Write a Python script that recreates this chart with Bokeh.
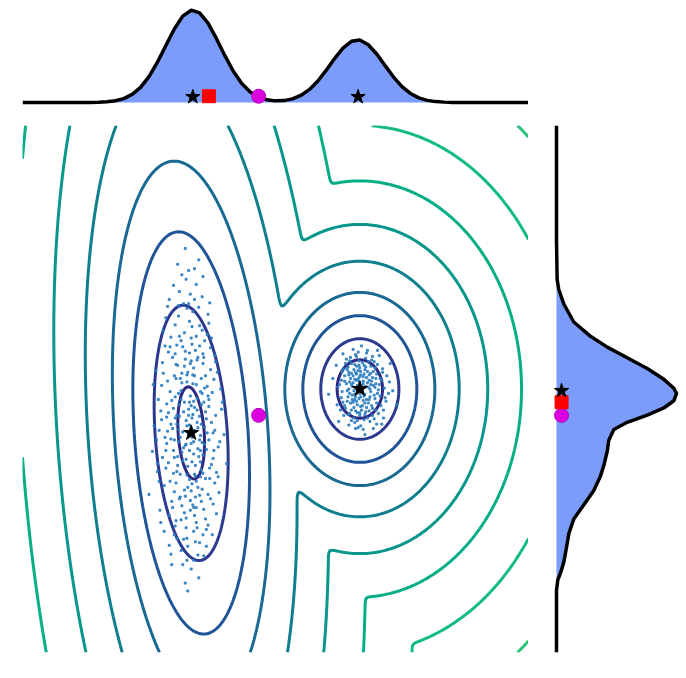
import numpy as np
from bokeh.plotting import figure
from bokeh.layouts import column, row
from bokeh.embed import file_html
from bokeh.resources import INLINE

# ---- mixture model ----
weights = [0.55, 0.4]
means = [[-1.0, -0.5], [1.0, 0.0]]
covs = [[[0.0374, -0.0266], [-0.0266, 0.41]],
        [[0.0317, 0.0], [0.0, 0.0484]]]
levels = [0.66, 2.9, 6.72, 12.0, 21.4, 35.8, 57.5, 92.5, 147.6]
level_colors = ["#2d2882", "#2b3a8f", "#1f5596", "#186a93", "#0f7f8e",
                "#07968a", "#05ae86", "#12bb82", "#2cc47c"]

# special points
mix_mean = [-0.2, -0.3]
top_square_x = [-0.79]
right_square_y = [-0.15]
top_star_x = [-0.98, 0.98]
right_star_y = [-0.02]

# marginal curves
top_x = [-3.0, -2.2, -2.1, -2.0, -1.9, -1.8, -1.7, -1.6, -1.5, -1.4, -1.3, -1.2,
         -1.1, -1.0, -0.9, -0.8, -0.7, -0.6, -0.5, -0.4, -0.3, -0.2, -0.1, 0.0,
         0.1, 0.2, 0.3, 0.4, 0.5, 0.6, 0.7, 0.8, 0.9, 1.0, 1.1, 1.2, 1.3, 1.4,
         1.5, 1.6, 1.7, 1.8, 1.9, 2.0, 2.1, 2.2, 3.0]
top_density = [0, 0.001, 0.002, 0.0055, 0.0137, 0.031, 0.064, 0.120, 0.206,
               0.320, 0.453, 0.584, 0.686, 0.733, 0.712, 0.630, 0.507, 0.372,
               0.248, 0.151, 0.083, 0.042, 0.021, 0.013, 0.015, 0.029, 0.056,
               0.102, 0.169, 0.255, 0.349, 0.432, 0.486, 0.496, 0.459, 0.385,
               0.293, 0.202, 0.126, 0.072, 0.037, 0.017, 0.007, 0.003, 0.001,
               0, 0]
right_y = [3.0, 1.69, 1.25, 1.133, 0.968, 0.763, 0.600, 0.477, 0.355, 0.233,
           0.110, 0.008, -0.051, -0.134, -0.216, -0.298, -0.379, -0.461,
           -0.583, -0.706, -0.869, -0.992, -1.155, -1.318, -1.481, -1.645,
           -1.808, -1.971, -2.094, -2.175, -2.295, -3.0]
right_density = [0, 0, 0.005, 0.018, 0.058, 0.137, 0.270, 0.403, 0.561, 0.720,
                 0.852, 0.931, 0.953, 0.931, 0.852, 0.720, 0.561, 0.455, 0.415,
                 0.403, 0.376, 0.349, 0.296, 0.217, 0.137, 0.098, 0.079, 0.058,
                 0.032, 0.010, 0, 0]

# samples
left_pts = [
    (-1.02, -0.41), (-0.91, -0.77), (-1.13, 0.12), (-0.97, -1.35), (-1.21, -0.22), (-0.85, 0.36), (-1.06, -0.63), (-0.78, -1.02), (-1.31, -0.55), (-0.99, 0.71),
    (-1.09, -1.71), (-0.88, -0.18), (-1.17, -0.94), (-0.94, 0.05), (-1.25, 0.48), (-0.72, -0.47), (-1.04, -1.12), (-0.83, -1.48), (-1.14, -0.31), (-0.96, 1.02),
    (-1.38, -1.05), (-0.69, 0.19), (-1.01, -0.08), (-1.19, -1.56), (-0.87, -0.61), (-1.07, 0.43), (-0.92, -1.89), (-1.28, 0.09), (-0.81, 0.62), (-1.11, -0.72),
    (-0.98, -0.29), (-1.23, -1.28), (-0.76, -0.86), (-1.05, 0.92), (-1.35, -0.35), (-0.90, -1.21), (-1.16, 0.27), (-0.64, -0.23), (-1.00, -2.05), (-0.86, 1.28),
    (-1.20, -0.58), (-0.95, -0.99), (-1.42, 0.21), (-0.79, -0.12), (-1.08, -1.41), (-0.93, 0.33), (-1.27, -0.84), (-0.74, -1.31), (-1.03, 1.35), (-1.15, -0.05),
    (-0.89, -0.53), (-1.33, 0.66), (-0.97, -1.62), (-1.12, 0.55), (-0.68, -0.66), (-1.24, -1.88), (-0.84, 0.01), (-1.06, -0.36), (-0.99, -0.83), (-1.46, -0.71),
    (-0.80, 0.85), (-1.18, -1.07), (-0.92, -0.44), (-1.01, 0.29), (-1.29, -0.17), (-0.75, -1.66), (-1.10, -0.49), (-0.90, 0.49), (-1.37, -1.38), (-0.96, -0.21),
    (-1.14, 1.11), (-0.70, -0.95), (-1.05, -1.95), (-0.87, -1.14), (-1.22, 0.36), (-0.98, 0.16), (-1.09, -0.67), (-0.82, -0.34), (-1.30, 0.81), (-0.94, -1.52),
    (-1.17, -0.40), (-0.77, 0.47), (-1.04, -0.88), (-1.40, -0.94), (-0.91, 1.47), (-1.13, -1.23), (-0.86, -0.75), (-1.25, -0.03), (-0.61, -0.52), (-1.00, 0.58),
    (-1.08, -0.15), (-0.95, -1.74), (-1.19, 0.73), (-0.83, -0.26), (-1.02, -1.03), (-1.32, -1.62), (-0.73, 0.11), (-1.11, 0.18), (-0.88, -0.92), (-1.21, -0.70),
    (-0.97, 0.24), (-1.07, -2.21), (-0.85, -1.37), (-1.26, 1.02), (-0.79, -0.58), (-1.15, -0.60), (-0.93, -0.11), (-1.44, -0.42), (-1.02, 0.41), (-0.67, -1.18),
    (-1.12, -1.49), (-0.90, 0.72), (-1.35, 0.04), (-0.99, -0.55), (-1.20, -1.17), (-0.82, -1.79), (-1.05, 0.08), (-0.76, -0.38), (-1.28, -0.48), (-0.94, 1.19),
    (-1.10, -0.82), (-0.86, 0.29), (-1.23, -2.00), (-1.01, -1.27), (-0.71, 0.31), (-1.16, 1.42), (-0.96, -0.97), (-1.50, -1.20), (-0.89, -0.03), (-1.06, -1.58),
    (-1.18, 0.12), (-0.80, -1.55), (-1.03, -0.23), (-1.31, 0.49), (-0.92, -0.68), (-1.09, 0.97), (-0.74, -0.79), (-1.26, -1.44), (-0.97, -0.14), (-1.13, -0.97),
    (-0.88, -1.28), (-1.39, -0.12), (-0.98, 0.88), (-1.14, -0.18), (-0.65, 0.00), (-1.04, -1.79), (-0.84, 0.55), (-1.21, -0.96), (-0.93, -0.38), (-1.07, 1.60),
    (-0.81, -0.50), (-1.24, 0.59), (-1.00, -1.16), (-0.91, -2.15), (-1.17, -0.30), (-0.78, 0.98), (-1.34, -0.78), (-1.05, -0.42), (-0.87, -0.05), (-1.11, -1.33),
    (-0.95, 0.44), (-1.20, -1.66), (-0.72, -1.07), (-1.08, 0.26), (-1.29, -0.62), (-0.96, -1.44), (-0.83, 0.15), (-1.15, 0.83), (-1.02, -0.70), (-0.58, -0.85),
    (-1.27, -0.27), (-0.89, -0.83), (-1.06, 1.25), (-0.99, -0.33), (-1.36, -1.52), (-0.79, -0.20), (-1.12, -0.12), (-0.94, -1.05), (-1.19, 0.40), (-0.86, -1.66),
    (-1.03, -0.52), (-0.90, -0.31), (-1.16, -0.77), (-0.98, 0.06), (-1.24, -0.40), (-0.82, -0.69), (-1.07, 0.34), (-0.95, -1.23), (-1.12, -1.84), (-0.77, 0.22),
    (-1.30, -0.90), (-1.00, -0.62), (-0.87, 0.67), (-1.19, -0.09), (-0.93, -1.58), (-1.05, -0.98), (-0.71, -0.30), (-1.34, 0.30), (-1.01, 1.08), (-0.89, -1.00),
    (-1.14, 0.60), (-0.80, -1.20), (-1.22, -1.35), (-0.96, -0.47), (-1.09, -0.26), (-0.66, -0.60), (-1.41, -0.58), (-1.04, 0.19), (-0.85, -1.90), (-1.17, -1.70),
    (-0.99, 0.51), (-1.28, 0.94), (-0.75, -0.04), (-1.06, -1.47), (-0.92, 0.36), (-1.13, -0.55), (-0.84, -0.43), (-1.25, -1.05), (-1.00, -0.19), (-0.70, -1.42),
    (-1.11, 1.30), (-0.97, -0.74), (-1.36, -0.25), (-0.88, 0.12), (-1.04, -2.30), (-1.20, 0.15), (-0.79, 0.75), (-1.08, -1.15), (-0.94, -1.35), (-1.27, 0.42),
    (-0.83, -1.02), (-1.15, -0.46), (-1.02, 0.77), (-0.90, -0.58), (-1.32, -1.10), (-0.73, -0.70), (-1.07, -0.64), (-0.96, 1.37), (-1.18, -1.50), (-0.86, 0.40),
    (-1.01, -1.38), (-1.23, -0.13), (-0.78, -0.90), (-1.10, 0.48), (-0.93, -0.24), (-1.45, 0.05), (-0.97, -1.95), (-0.81, 0.03), (-1.16, -0.87), (-1.03, -0.30),
    (-0.91, 0.93), (-1.30, -0.70), (-0.68, -1.00), (-1.12, -0.02), (-0.99, -1.08), (-1.21, 1.18), (-0.85, -0.15), (-1.05, -1.70), (-0.76, 0.58), (-1.38, -0.47),
    (-1.08, 0.64), (-0.95, -0.87), (-1.19, -0.33), (-0.82, -1.60), (-1.00, 0.32), (-1.26, -1.78), (-0.88, -0.40), (-1.14, -1.25), (-0.74, -0.50), (-1.03, 0.97),
    (-0.92, -1.12), (-1.33, 0.18), (-1.06, -0.80), (-0.80, -0.08), (-1.18, 0.28), (-0.97, -0.60), (-1.24, -0.57), (-0.87, 1.05), (-1.10, -2.00), (-0.63, -0.15),
    (-1.00, -0.45), (-1.15, 0.95), (-0.90, -1.75), (-1.29, -0.32), (-0.84, -0.63), (-1.07, -1.22), (-0.96, 0.15), (-1.20, -0.78), (-0.77, -1.25), (-1.11, 0.07),
    (-0.94, 0.60), (-1.40, -0.85), (-1.02, -0.15), (-0.86, -0.96), (-1.17, 0.50), (-0.98, -1.32), (-1.22, -0.45), (-0.72, 0.38), (-1.05, 0.16), (-0.89, -0.70),
]
right_pts = [
    (1.02, 0.04), (0.91, -0.12), (1.13, 0.18), (0.97, -0.27), (1.21, -0.05), (0.85, 0.22), (1.06, -0.16), (0.79, -0.03), (1.17, 0.31), (0.99, 0.09),
    (1.09, -0.33), (0.88, 0.08), (1.24, 0.12), (0.94, -0.06), (1.05, 0.27), (0.73, -0.18), (1.15, -0.22), (0.96, 0.37), (1.31, -0.14), (0.87, -0.41),
    (1.01, -0.09), (1.19, 0.06), (0.82, 0.15), (1.08, 0.41), (0.93, -0.21), (1.27, 0.23), (0.90, 0.29), (1.12, -0.37), (0.76, 0.05), (1.04, 0.14),
    (0.98, -0.44), (1.22, -0.28), (0.86, -0.09), (1.10, 0.02), (0.68, 0.12), (1.35, 0.08), (0.95, 0.19), (1.14, 0.33), (0.81, -0.30), (1.03, -0.02),
    (1.18, -0.11), (0.92, 0.45), (1.07, -0.26), (0.84, 0.34), (1.28, -0.33), (1.00, 0.24), (0.89, -0.16), (1.11, 0.10), (0.97, -0.36), (1.23, 0.38),
    (0.78, -0.10), (1.05, -0.08), (0.94, 0.11), (1.16, -0.45), (0.87, 0.00), (1.39, -0.02), (1.02, 0.49), (0.72, 0.27), (1.20, 0.17), (0.96, -0.14),
    (1.09, 0.20), (0.83, -0.22), (1.25, -0.19), (1.00, -0.30), (0.91, 0.03), (1.13, 0.26), (0.99, 0.32), (1.32, 0.15), (0.80, 0.40), (1.06, -0.52),
    (0.93, -0.02), (1.17, -0.07), (0.86, 0.25), (1.04, 0.06), (1.21, 0.44), (0.75, -0.37), (1.10, -0.16), (0.95, -0.25), (1.29, 0.01), (1.01, 0.16),
    (0.88, -0.28), (1.14, 0.09), (0.97, 0.04), (1.26, -0.40), (0.82, 0.09), (1.07, 0.35), (0.63, -0.06), (1.19, -0.24), (0.90, 0.18), (1.03, -0.19),
    (1.12, 0.00), (0.94, -0.38), (1.36, 0.29), (0.85, -0.14), (1.08, 0.13), (1.00, -0.05), (0.79, 0.20), (1.23, 0.05), (0.96, 0.26), (1.15, -0.30),
    (1.06, 0.22), (0.89, 0.36), (1.30, -0.10), (0.98, 0.12), (1.18, 0.24), (0.77, -0.24), (1.01, -0.42), (1.11, -0.12), (0.92, 0.07), (1.44, -0.18),
    (1.00, 0.07), (0.95, -0.09), (1.07, 0.03), (0.92, 0.15), (1.04, -0.13), (1.13, -0.03), (0.88, -0.05), (1.01, 0.20), (0.97, -0.18), (1.11, 0.16),
    (1.06, -0.06), (0.90, -0.24), (1.18, 0.02), (0.99, -0.01), (0.84, 0.06), (1.15, 0.13), (0.94, 0.28), (1.08, -0.21), (0.87, 0.19), (1.20, -0.16),
    (1.03, 0.30), (0.96, 0.10), (1.12, -0.09), (0.80, -0.15), (1.09, 0.07), (0.93, -0.33), (1.26, 0.10), (0.98, 0.21), (1.05, -0.35), (0.89, 0.12),
    (1.16, 0.20), (0.91, -0.07), (1.02, -0.24), (0.83, 0.29), (1.24, -0.08), (1.00, 0.14), (0.95, 0.39), (1.14, -0.19), (0.86, -0.29), (1.07, 0.25),
    (0.97, 0.00), (1.21, 0.28), (0.90, 0.05), (1.04, 0.09), (0.78, 0.10), (1.17, -0.34), (0.99, -0.11), (1.10, 0.31), (0.92, -0.15), (1.28, -0.24),
    (1.01, -0.20), (0.85, -0.02), (1.13, 0.05), (0.96, 0.17), (1.06, -0.29), (0.74, 0.02), (1.19, 0.12), (0.93, 0.22), (1.03, -0.04), (0.88, 0.32),
    (1.22, -0.01), (0.99, 0.27), (1.08, -0.12), (0.82, -0.19), (1.15, 0.37), (0.95, -0.45), (1.34, -0.05), (1.05, 0.17), (0.90, -0.36), (1.11, -0.25),
    (0.98, 0.42), (0.81, 0.23), (1.27, 0.19), (1.00, -0.27), (1.16, 0.04), (0.87, 0.16), (1.04, -0.46), (0.94, -0.12), (1.20, -0.40), (1.09, 0.44),
]
left_x = [p[0] for p in left_pts]
left_y = [p[1] for p in left_pts]
right_x = [p[0] for p in right_pts]
right_yy = [p[1] for p in right_pts]

FILL = "#7b9cfb"
MAGENTA = "#dc00e0"
DOT = "#2a7cbf"

# ---- density grid for the contour plot ----
gx = np.linspace(-3, 3, 241)
gy = np.linspace(-3, 3, 241)
X, Y = np.meshgrid(gx, gy)
P = np.zeros_like(X)
for w, m, c in zip(weights, means, covs):
    c = np.array(c)
    inv = np.linalg.inv(c)
    det = np.linalg.det(c)
    dx = X - m[0]
    dy = Y - m[1]
    q = inv[0, 0] * dx * dx + 2 * inv[0, 1] * dx * dy + inv[1, 1] * dy * dy
    P += w * np.exp(-0.5 * q) / (2 * np.pi * np.sqrt(det))
Z = -np.log(P)

common = dict(toolbar_location=None, output_backend="svg",
              x_axis_location=None, y_axis_location=None,
              outline_line_color=None, background_fill_color="white",
              border_fill_color="white")

# ---- main panel ----
main = figure(width=528, height=573, x_range=(-3, 3), y_range=(-3, 3),
              min_border_left=22, min_border_right=0, min_border_top=20,
              min_border_bottom=26, **common)
main.grid.visible = False
main.contour(gx, gy, Z, levels, line_color=level_colors, line_width=3)
main.scatter(left_x, left_y, marker="square", size=2.0, color=DOT, alpha=0.85)
main.scatter(right_x, right_yy, marker="square", size=2.0, color=DOT, alpha=0.85)
main.scatter([m[0] for m in means], [m[1] for m in means], marker="star",
             size=16, color="black")
main.scatter([mix_mean[0]], [mix_mean[1]], marker="circle", size=14,
             fill_color=MAGENTA, line_color="#b400c0")

# ---- top marginal ----
top = figure(width=528, height=105, x_range=(-3, 3), y_range=(-0.0238, 0.81),
             min_border_left=22, min_border_right=0, min_border_top=0,
             min_border_bottom=0, **common)
top.grid.visible = False
top.varea(x=top_x, y1=[0] * len(top_x), y2=top_density, fill_color=FILL)
top.line(top_x, top_density, line_color="black", line_width=3.5)
top.scatter(top_star_x, [0.045] * len(top_star_x), marker="star", size=15, color="black")
top.scatter(top_square_x, [0.05], marker="square", size=13, color="red")
top.scatter([mix_mean[0]], [0.05], marker="circle", size=14,
            fill_color=MAGENTA, line_color="#b400c0")

# ---- right marginal ----
right = figure(width=158, height=573, x_range=(-0.0238, 1.0078), y_range=(-3, 3),
               min_border_left=25, min_border_right=3, min_border_top=20,
               min_border_bottom=26, **common)
right.grid.visible = False
right.harea(y=right_y, x1=[0] * len(right_y), x2=right_density, fill_color=FILL)
right.line(right_density, right_y, line_color="black", line_width=3.5)
right.scatter([0.04], [mix_mean[1]], marker="circle", size=14,
              fill_color=MAGENTA, line_color="#b400c0")
right.scatter([0.04], right_square_y, marker="square", size=13, color="red")
right.scatter([0.04] * len(right_star_y), right_star_y, marker="star", size=15, color="black")

layout = column(top, row(main, right))
open("out.html", "w").write(file_html(layout, INLINE))
